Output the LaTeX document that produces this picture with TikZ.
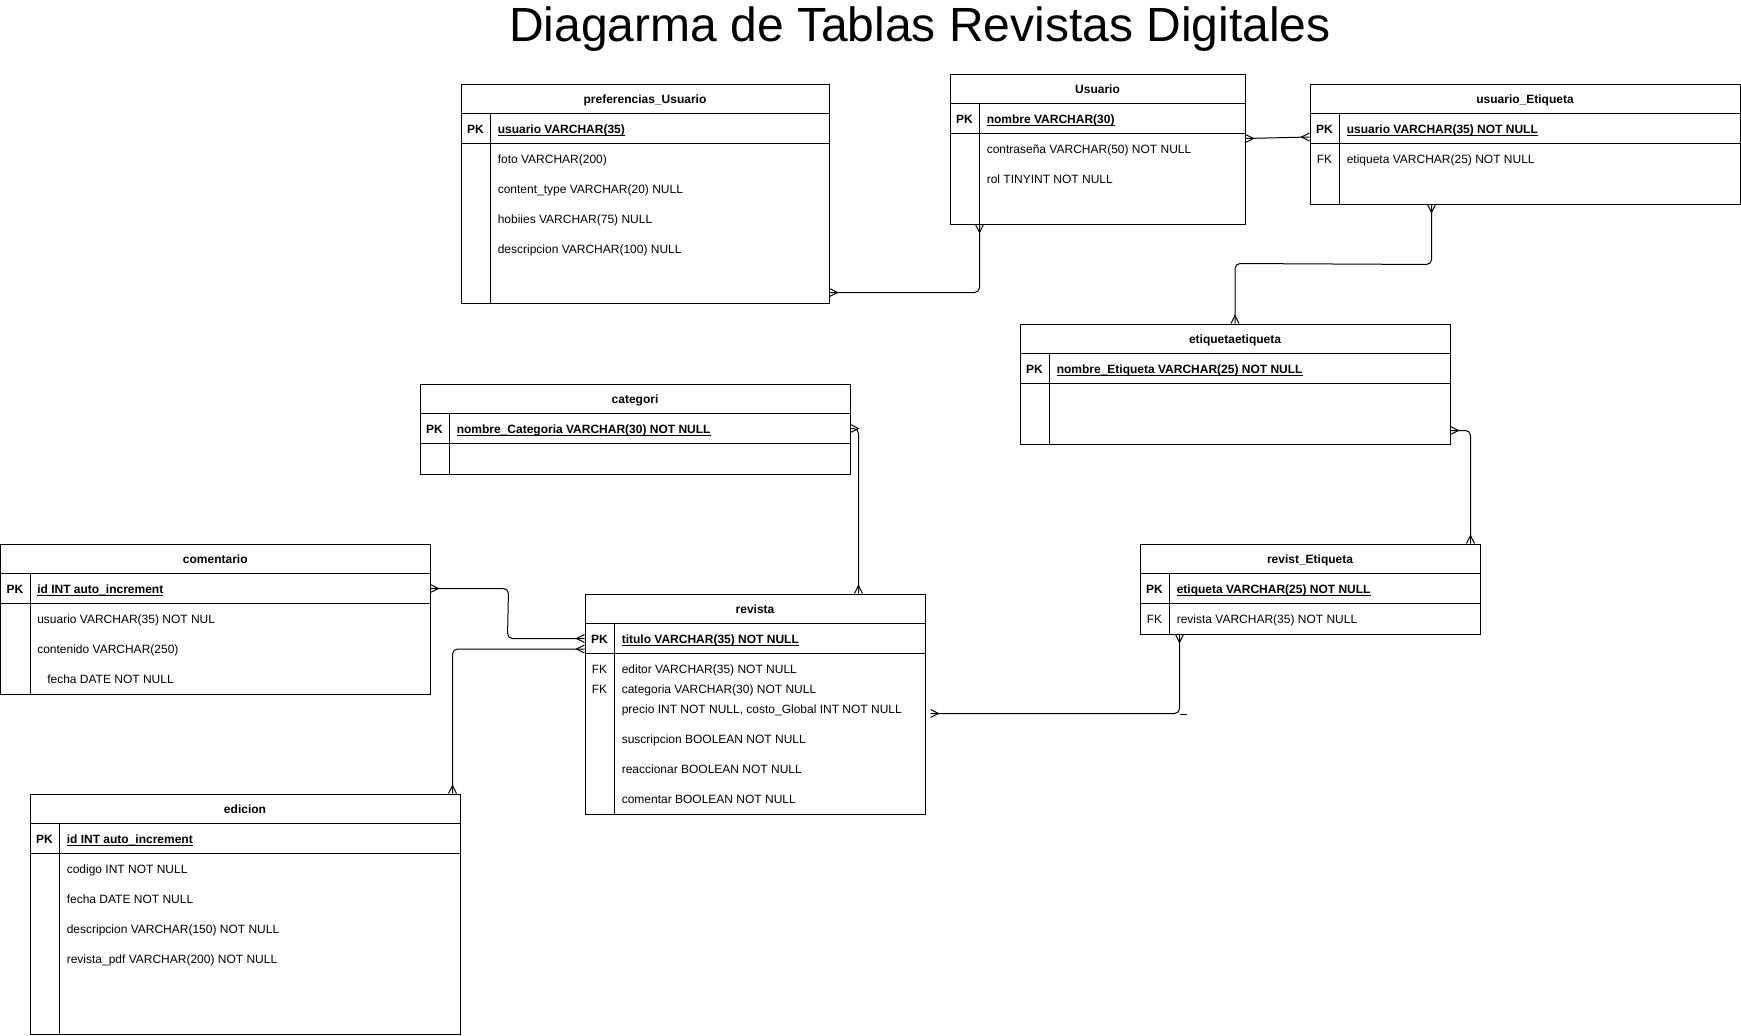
\documentclass[tikz,border=0pt]{standalone}
\usepackage{fontspec}
\setmainfont{Liberation Sans}
\usetikzlibrary{calc,fit}
\newcommand\crowfoot[2]{\draw[crowline, shift={#1}, rotate=#2] (0,-4) -- (8,0) -- (0,4);}
\newcommand\tablelines[1]{%
  \draw[tline] ($(#1.north west)+(0,30)$) -- ($(#1.north east)+(0,30)$);
  \draw[tline] ($(#1.north west)+(0,60)$) -- ($(#1.north east)+(0,60)$);
  \draw[tline] ($(#1.north west)+(30,30)$) -- ($(#1.south west)+(30,0)$);}
\newcommand\ulx[1]{\setbox0\hbox{#1}\rlap{\rule[-1.9pt]{\wd0}{0.65pt}}\box0}
\newcommand\hdr[2]{\node[ttl] (#1-t) at ($(#1.north)+(0,20)$) {#2};}
\newcommand\pkrow[2]{\node[keylbl] (#1-k) at ($(#1.north west)+(15,50)$) {PK};
  \node[pkattr] (#1-a) at ($(#1.north west)+(37,50)$) {\ulx{#2}};}
\newcommand\attrrow[4]{\node[attr] (#1-#2) at ($(#1.north west)+(37,#3)$) {#4};}
\newcommand\fkrow[3]{\node[fklbl] (#1-#2) at ($(#1.north west)+(15,#3)$) {FK};}
\begin{document}
\begin{tikzpicture}[x=0.75pt,y=-0.75pt,
  tbl/.style={draw, inner sep=0pt, line width=0.75pt},
  tline/.style={line width=0.75pt},
  ttl/.style={font=\bfseries\fontsize{9}{11}\selectfont, inner sep=0pt, anchor=base},
  keylbl/.style={font=\bfseries\fontsize{9}{11}\selectfont, inner sep=0pt, anchor=base},
  fklbl/.style={font=\fontsize{9}{11}\selectfont, inner sep=0pt, anchor=base},
  pkattr/.style={font=\bfseries\fontsize{9}{11}\selectfont, inner sep=0pt, anchor=base west},
  attr/.style={font=\fontsize{9}{11}\selectfont, inner sep=0pt, anchor=base west},
  conn/.style={draw, line width=0.75pt, rounded corners=3.75pt},
  crowline/.style={draw, line width=0.75pt},
]
\useasboundingbox (0,0) rectangle (1741,1035);

\node[font=\fontsize{36}{43}\selectfont, inner sep=0pt, anchor=base] (title) at (920,41) {Diagarma de Tablas Revistas Digitales};

% tables
\node[tbl, fit={(461,84) (829,303)}] (pref) {};
\node[tbl, fit={(950,74) (1245,224)}] (usu) {};
\node[tbl, fit={(1310,84) (1740,204)}] (usuet) {};
\node[tbl, fit={(1020,324) (1450,444)}] (etiq) {};
\node[tbl, fit={(420,384) (850,474)}] (cat) {};
\node[tbl, fit={(0.5,544) (430,694)}] (com) {};
\node[tbl, fit={(585,594) (925,814)}] (rev) {};
\node[tbl, fit={(1140,544) (1480,634)}] (revet) {};
\node[tbl, fit={(30,794) (460,1034)}] (edi) {};

\foreach \t in {pref,usu,usuet,etiq,cat,com,rev,revet,edi} {\tablelines{\t}}

% preferencias_Usuario
\hdr{pref}{preferencias\_Usuario}
\pkrow{pref}{usuario VARCHAR(35)}
\attrrow{pref}{r1}{80}{foto VARCHAR(200)}
\attrrow{pref}{r2}{110}{content\_type VARCHAR(20) NULL}
\attrrow{pref}{r3}{140}{hobiies VARCHAR(75) NULL}
\attrrow{pref}{r4}{170}{descripcion VARCHAR(100) NULL}

% Usuario
\hdr{usu}{Usuario}
\pkrow{usu}{nombre VARCHAR(30)}
\attrrow{usu}{r1}{80}{contraseña VARCHAR(50) NOT NULL}
\attrrow{usu}{r2}{110}{rol TINYINT NOT NULL}

% usuario_Etiqueta
\hdr{usuet}{usuario\_Etiqueta}
\pkrow{usuet}{usuario VARCHAR(35) NOT NULL}
\fkrow{usuet}{f1}{80}
\attrrow{usuet}{r1}{80}{etiqueta VARCHAR(25) NOT NULL}

% etiquetaetiqueta
\hdr{etiq}{etiquetaetiqueta}
\pkrow{etiq}{nombre\_Etiqueta VARCHAR(25) NOT NULL}

% categori
\hdr{cat}{categori}
\pkrow{cat}{nombre\_Categoria VARCHAR(30) NOT NULL}

% comentario
\hdr{com}{comentario}
\pkrow{com}{id INT auto\_increment}
\attrrow{com}{r1}{80}{usuario VARCHAR(35) NOT NUL}
\attrrow{com}{r2}{110}{contenido VARCHAR(250)}
\node[attr] (com-r3) at ($(com.north west)+(47,140)$) {fecha DATE NOT NULL};

% revista
\hdr{rev}{revista}
\pkrow{rev}{titulo VARCHAR(35) NOT NULL}
\fkrow{rev}{f1}{80}
\fkrow{rev}{f2}{100}
\attrrow{rev}{r1}{80}{editor VARCHAR(35) NOT NULL}
\attrrow{rev}{r2}{100}{categoria VARCHAR(30) NOT NULL}
\attrrow{rev}{r3}{120}{precio INT NOT NULL, costo\_Global INT NOT NULL}
\attrrow{rev}{r4}{150}{suscripcion BOOLEAN NOT NULL}
\attrrow{rev}{r5}{180}{reaccionar BOOLEAN NOT NULL}
\attrrow{rev}{r6}{210}{comentar BOOLEAN NOT NULL}

% revist_Etiqueta
\hdr{revet}{revist\_Etiqueta}
\pkrow{revet}{etiqueta VARCHAR(25) NOT NULL}
\fkrow{revet}{f1}{80}
\attrrow{revet}{r1}{80}{revista VARCHAR(35) NOT NULL}

% edicion
\hdr{edi}{edicion}
\pkrow{edi}{id INT auto\_increment}
\attrrow{edi}{r1}{80}{codigo INT NOT NULL}
\attrrow{edi}{r2}{110}{fecha DATE NOT NULL}
\attrrow{edi}{r3}{140}{descripcion VARCHAR(150) NOT NULL}
\attrrow{edi}{r4}{170}{revista\_pdf VARCHAR(200) NOT NULL}

% connectors
% preferencias_Usuario -- Usuario
\draw[conn] ($(pref.south east)+(0,-11)$) -| ($(usu.south west)+(30,0)$);
\crowfoot{($(pref.south east)+(0,-11)$)}{0}
\crowfoot{($(usu.south west)+(30,0)$)}{-90}
% Usuario -- usuario_Etiqueta
\draw[conn] ($(usu.north east)+(0,65)$) -- ($(usuet.north west)+(0,53.5)$);
\crowfoot{($(usu.north east)+(0,65)$)}{0}
\crowfoot{($(usuet.north west)+(0,53.5)$)}{180}
% usuario_Etiqueta -- etiquetaetiqueta
\draw[conn] ($(usuet.south west)+(122,0)$) -- ($(usuet.south west)+(122,60)$) -- ($(etiq.north)+(0,-60)$) -- (etiq.north);
\crowfoot{($(usuet.south west)+(122,0)$)}{-90}
\crowfoot{(etiq.north)}{90}
% etiquetaetiqueta -- revist_Etiqueta
\draw[conn] ($(etiq.south east)+(0,-14)$) -| ($(revet.north east)+(-10,0)$);
\crowfoot{($(etiq.south east)+(0,-14)$)}{0}
\crowfoot{($(revet.north east)+(-10,0)$)}{90}
% categori -- revista
\draw[conn] ($(cat.north east)+(0,45)$) -| ($(rev.north west)+(274,0)$);
\crowfoot{($(cat.north east)+(0,45)$)}{0}
\crowfoot{($(rev.north west)+(274,0)$)}{90}
% comentario -- revista
\draw[conn] ($(com.north east)+(0,45)$) -- ($(com.north east)+(78,45)$) -- ($(rev.north west)+(-77,45)$) -- ($(rev.north west)+(0,45)$);
\crowfoot{($(com.north east)+(0,45)$)}{0}
\crowfoot{($(rev.north west)+(0,45)$)}{180}
% edicion -- revista
\draw[conn] ($(edi.north east)+(-8,0)$) |- ($(rev.north west)+(0,55.5)$);
\crowfoot{($(edi.north east)+(-8,0)$)}{90}
\crowfoot{($(rev.north west)+(0,55.5)$)}{180}
% revist_Etiqueta -- revista
\draw[conn] ($(revet.south west)+(40,0)$) |- ($(rev.north east)+(5,120)$);
\draw[crowline] ($(revet.south west)+(40,80)$) -- ++(7,0);
\crowfoot{($(revet.south west)+(40,0)$)}{-90}
\crowfoot{($(rev.north east)+(5,120)$)}{0}
\end{tikzpicture}
\end{document}
